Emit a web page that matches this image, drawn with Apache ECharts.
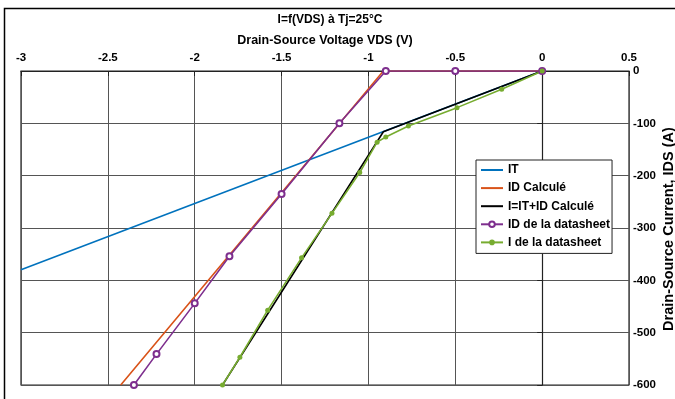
<!DOCTYPE html>
<html>
<head>
<meta charset="utf-8">
<script src="https://cdn.jsdelivr.net/npm/echarts@6/dist/echarts.min.js"></script>
<style>
html,body{margin:0;padding:0;background:#fff;}
#c{width:675px;height:399px;}
</style>
</head>
<body>
<div id="c"></div>
<script>
// ---- data ----
const titleText = 'I=f(VDS) à Tj=25°C';
const xName = 'Drain-Source Voltage VDS (V)';
const yName = 'Drain-Source Current, IDS (A)';
const seriesNames = ['IT', 'ID Calculé', 'I=IT+ID Calculé', 'ID de la datasheet', 'I de la datasheet'];

const itV = [0, -3];
const itI = [0, -380];

const idCalcV = [0, -0.914, -2.426];
const idCalcI = [0, 0, -600];

const totalV = [0, -0.914, -1.84];
const totalI = [0, -116, -600];

const idDsV = [0, -0.5, -0.9, -1.167, -1.5, -1.8, -2.0, -2.22, -2.35];
const idDsI = [0, 0, 0, -100, -235, -354, -444, -541, -600];

const iDsV = [0, -0.233, -0.49, -0.77, -0.9, -0.95, -1.05, -1.21, -1.385, -1.58, -1.74, -1.84];
const iDsI = [0, -35, -70, -105, -126, -136, -194, -272, -357, -457, -547, -600];

const xMin = -3, xMax = 0.5, xStep = 0.5;
const yMin = -600, yMax = 0, yStep = 100;

function pairs(xs, ys) { return xs.map((x, i) => [x, ys[i]]); }

const FONT = 'Liberation Sans, Arial, sans-serif';
const colors = ['#0072BD', '#D95319', '#000000', '#7E2F8E', '#77AC30'];

const chart = echarts.init(document.getElementById('c'), null, {renderer: 'canvas'});
chart.setOption({
  animation: false,
  backgroundColor: '#ffffff',
  title: {
    text: titleText,
    left: 325, top: 9, textAlign: 'center',
    textStyle: {fontFamily: FONT, fontSize: 12, fontWeight: 'bold', color: '#000'}
  },
  graphic: [{
    type: 'polyline',
    shape: {points: [[4.5, 399], [4.5, 8.5], [675, 8.5]]},
    style: {stroke: '#000', lineWidth: 1.5, fill: null},
    silent: true
  }, {
    type: 'text',
    x: 669, y: 229,
    rotation: Math.PI / 2,
    silent: true,
    style: {
      text: yName,
      fontFamily: FONT, fontSize: 14.5, fontWeight: 'bold', fill: '#000',
      align: 'center', verticalAlign: 'middle'
    }
  }],
  grid: {
    left: 21, top: 71, width: 608, height: 314,
    show: true, borderColor: '#222', borderWidth: 1.2, backgroundColor: '#fff'
  },
  legend: {
    orient: 'vertical',
    left: 476, top: 160,
    padding: [4, 2, 5, 4],
    itemWidth: 22, itemHeight: 7, itemGap: 6.1,
    backgroundColor: '#fff',
    borderColor: '#222', borderWidth: 1,
    textStyle: {fontFamily: FONT, fontSize: 12, fontWeight: 'bold', color: '#000'},
    data: [
      {name: seriesNames[0], itemStyle: {opacity: 0}},
      {name: seriesNames[1], itemStyle: {opacity: 0}},
      {name: seriesNames[2], itemStyle: {opacity: 0}},
      {name: seriesNames[3]},
      {name: seriesNames[4]}
    ]
  },
  xAxis: {
    type: 'value', position: 'top',
    min: xMin, max: xMax, interval: xStep,
    name: xName, nameLocation: 'middle', nameGap: 24,
    nameTextStyle: {fontFamily: FONT, fontSize: 12.5, fontWeight: 'bold', color: '#000'},
    axisLine: {show: true, lineStyle: {color: '#222', width: 1.2}},
    axisTick: {show: true, inside: true, length: 5, lineStyle: {color: '#222'}},
    axisLabel: {margin: 7, fontFamily: FONT, fontSize: 11.5, fontWeight: 'bold', color: '#000'},
    splitLine: {show: true, lineStyle: {color: '#555', width: 1}}
  },
  yAxis: {
    type: 'value', position: 'right',
    min: yMin, max: yMax, interval: yStep,
    axisLine: {show: true, lineStyle: {color: '#222', width: 1.2}},
    axisTick: {show: true, inside: true, length: 5, lineStyle: {color: '#222'}},
    axisLabel: {margin: 4, fontFamily: FONT, fontSize: 11.5, fontWeight: 'bold', color: '#000'},
    splitLine: {show: true, lineStyle: {color: '#555', width: 1}}
  },
  series: [
    {name: seriesNames[0], type: 'line', data: pairs(itV, itI), symbol: 'none',
     lineStyle: {color: colors[0], width: 1.6}, itemStyle: {color: colors[0]}},
    {name: seriesNames[1], type: 'line', data: pairs(idCalcV, idCalcI), symbol: 'none',
     lineStyle: {color: colors[1], width: 1.6}, itemStyle: {color: colors[1]}},
    {name: seriesNames[2], type: 'line', data: pairs(totalV, totalI), symbol: 'none',
     lineStyle: {color: colors[2], width: 1.6}, itemStyle: {color: colors[2]}},
    {name: seriesNames[3], type: 'line', data: pairs(idDsV, idDsI), symbol: 'emptyCircle', symbolSize: 6,
     lineStyle: {color: colors[3], width: 1.6}, itemStyle: {color: colors[3], borderWidth: 1.5}},
    {name: seriesNames[4], type: 'line', data: pairs(iDsV, iDsI), symbol: 'circle', symbolSize: 5,
     lineStyle: {color: colors[4], width: 1.6}, itemStyle: {color: colors[4]}}
  ]
});
</script>
</body>
</html>
